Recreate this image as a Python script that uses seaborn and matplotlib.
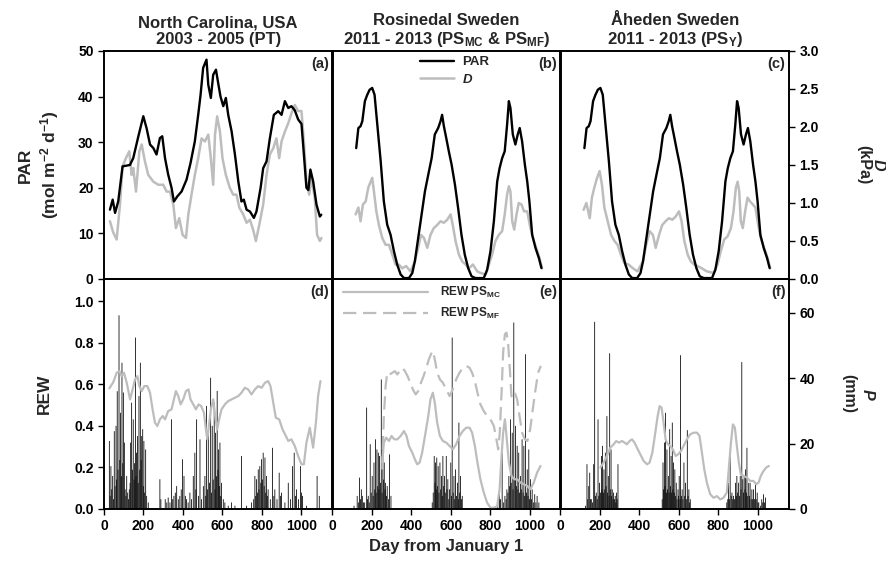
import numpy as np
import matplotlib
matplotlib.use("Agg")
import matplotlib.pyplot as plt
from matplotlib.lines import Line2D
import seaborn as sns

# ---------------- data ----------------
titles = ["North Carolina, USA\n2003 - 2005 (PT)",
          "Rosinedal Sweden\n2011 - 2013 (PS$_{MC}$ & PS$_{MF}$)",
          "\u00c5heden Sweden\n2011 - 2013 (PS$_{Y}$)"]
panel_tags_top = ["(a)", "(b)", "(c)"]
panel_tags_bot = ["(d)", "(e)", "(f)"]
x_ticks = [0, 200, 400, 600, 800, 1000]

# PAR (mol m-2 d-1)
nc_par_day = [30, 44, 56, 72, 94, 131, 148, 174, 199, 216, 233, 250, 266, 283, 295, 309, 325, 342, 354, 371,
              393, 418, 438, 460, 477, 489, 502, 519, 528, 541, 553, 567, 578, 590, 604, 617, 629, 646, 663, 680,
              696, 708, 722, 739, 759, 772, 793, 806, 823, 840, 860, 882, 899, 916, 933, 949, 966, 983, 1000, 1010,
              1025, 1035, 1045, 1059, 1076, 1093, 1100]
nc_par_val = [15.2, 17.4, 14.5, 17.0, 24.7, 25.0, 26.5, 31.3, 35.7, 33.0, 29.5, 28.7, 27.3, 30.9, 31.3, 26.5, 22.9, 20.0, 17.0, 18.1,
              19.2, 21.8, 25.4, 30.2, 36.0, 40.4, 46.3, 48.1, 42.6, 39.7, 44.8, 45.9, 43.0, 40.0, 37.9, 39.7, 36.0, 32.4, 27.3, 21.4,
              17.0, 17.4, 15.2, 14.8, 13.4, 14.8, 20.0, 24.3, 25.8, 30.9, 36.0, 36.8, 36.0, 39.0, 37.5, 37.9, 37.0, 35.0, 34.0, 28.5,
              20.0, 19.5, 24.0, 21.4, 16.3, 13.7, 14.1]

se_par_day = [121, 132, 143, 152, 165, 177, 189, 202, 214, 228, 245, 261, 278, 295, 312, 329, 346, 363, 388, 405,
              418, 435, 452, 469, 486, 503, 519, 536, 548, 556, 565, 577, 590, 604, 621, 637, 654, 671, 688, 705,
              725, 767, 784, 801, 818, 835, 847, 860, 873, 885, 894, 902, 914, 927, 939, 949, 961, 975, 987, 998,
              1012, 1029, 1046, 1059]
se_par_val = [28.7, 33.1, 33.5, 34.6, 39.0, 40.4, 41.5, 41.9, 40.4, 33.8, 25.8, 17.0, 11.9, 9.7, 6.1, 3.1, 1.0, 0.2, 0.2, 1.3,
              3.9, 9.0, 14.1, 19.2, 22.9, 26.5, 31.7, 33.1, 34.6, 36.0, 33.5, 30.9, 28.0, 25.1, 20.7, 15.6, 9.7, 5.3, 2.4, 0.6,
              0.2, 0.2, 2.0, 6.1, 12.6, 21.4, 24.3, 26.5, 28.0, 33.8, 39.0, 37.5, 31.7, 29.5, 31.7, 33.1, 30.2, 25.1, 21.4, 17.0,
              9.7, 6.8, 4.6, 2.4]

# D (kPa)
nc_d_day = [30, 47, 64, 81, 94, 111, 128, 140, 148, 162, 179, 191, 207, 224, 250, 275, 300, 317, 334, 351,
            364, 381, 398, 415, 427, 443, 460, 477, 494, 511, 528, 541, 553, 562, 573, 587, 600, 617, 637, 654,
            671, 685, 705, 722, 739, 755, 769, 786, 806, 823, 840, 857, 873, 887, 899, 916, 933, 949, 966, 983,
            1000, 1012, 1025, 1039, 1051, 1067, 1079, 1093, 1101]
nc_d_val = [0.76, 0.61, 0.52, 0.98, 1.48, 1.59, 1.68, 1.37, 1.46, 1.15, 1.68, 1.77, 1.55, 1.37, 1.28, 1.24, 1.24, 1.15, 1.15, 0.98,
            0.67, 0.80, 0.58, 0.54, 0.85, 1.11, 1.37, 1.59, 1.85, 1.81, 1.90, 1.59, 1.24, 1.90, 2.14, 1.94, 1.59, 1.37, 1.20, 1.11,
            1.11, 0.94, 0.85, 0.74, 0.78, 0.65, 0.50, 0.71, 0.98, 1.37, 1.64, 1.72, 1.85, 1.59, 1.81, 1.94, 2.05, 2.18, 2.29, 2.21,
            2.21, 1.81, 1.28, 1.11, 1.33, 1.07, 0.58, 0.50, 0.54]

ro_d_day = [118, 132, 143, 155, 169, 182, 194, 202, 211, 223, 236, 253, 270, 287, 304, 320, 337, 354, 374, 396,
            418, 435, 449, 464, 481, 497, 514, 531, 548, 565, 582, 599, 610, 624, 641, 658, 675, 691, 712, 734,
            750, 776, 793, 809, 826, 843, 860, 873, 885, 894, 902, 911, 921, 933, 944, 958, 971, 987, 1000, 1016,
            1032, 1049, 1062]
ro_d_val = [0.85, 0.94, 0.76, 0.98, 1.02, 1.20, 1.28, 1.33, 1.15, 0.89, 0.71, 0.54, 0.45, 0.45, 0.32, 0.19, 0.19, 0.14, 0.17, 0.10,
            0.23, 0.41, 0.58, 0.54, 0.41, 0.58, 0.67, 0.71, 0.76, 0.74, 0.78, 0.85, 0.71, 0.50, 0.32, 0.23, 0.19, 0.14, 0.19, 0.10,
            0.08, 0.06, 0.19, 0.32, 0.50, 0.58, 0.63, 0.85, 1.11, 1.22, 1.15, 0.76, 0.65, 0.85, 1.00, 0.98, 0.89, 0.89, 0.71, 0.54,
            0.41, 0.28, 0.14]

ah_d_day = [117, 131, 148, 159, 171, 185, 198, 210, 222, 239, 256, 273, 289, 306, 323, 345, 367, 390, 417, 434,
            451, 468, 482, 499, 515, 532, 549, 566, 583, 600, 613, 627, 644, 660, 677, 694, 716, 741, 775, 795,
            812, 829, 846, 863, 876, 888, 897, 905, 913, 923, 935, 947, 960, 974, 987, 1001, 1014, 1031, 1048, 1062]
ah_d_val = [0.91, 1.00, 0.80, 1.07, 1.20, 1.33, 1.42, 1.24, 0.94, 0.76, 0.58, 0.50, 0.45, 0.32, 0.21, 0.19, 0.14, 0.10, 0.23, 0.45,
            0.63, 0.58, 0.41, 0.58, 0.71, 0.76, 0.80, 0.78, 0.82, 0.89, 0.76, 0.50, 0.32, 0.23, 0.19, 0.17, 0.14, 0.10, 0.08, 0.19,
            0.37, 0.52, 0.56, 0.67, 0.89, 1.20, 1.28, 1.15, 0.76, 0.67, 0.89, 1.07, 1.02, 0.98, 0.94, 0.71, 0.54, 0.41, 0.28, 0.14]

# REW (-)
nc_rew_day = [27, 47, 64, 78, 89, 101, 115, 132, 145, 157, 169, 179, 191, 204, 219, 233, 246, 258, 270, 283,
              297, 309, 325, 342, 354, 364, 376, 388, 401, 415, 428, 438, 452, 465, 479, 492, 506, 516, 523, 533,
              541, 553, 563, 573, 583, 595, 612, 629, 646, 663, 680, 696, 713, 730, 747, 764, 781, 798, 815, 831,
              843, 857, 870, 887, 904, 921, 933, 949, 966, 983, 1000, 1012, 1025, 1042, 1059, 1073, 1084, 1096]
nc_rew_val = [0.58, 0.61, 0.655, 0.663, 0.639, 0.655, 0.607, 0.527, 0.575, 0.623, 0.639, 0.591, 0.567, 0.591, 0.591, 0.559, 0.479, 0.415, 0.399, 0.431,
              0.447, 0.431, 0.471, 0.479, 0.527, 0.567, 0.543, 0.503, 0.527, 0.567, 0.575, 0.527, 0.503, 0.479, 0.503, 0.495, 0.463, 0.383, 0.335, 0.415,
              0.479, 0.527, 0.447, 0.383, 0.431, 0.479, 0.503, 0.519, 0.527, 0.535, 0.543, 0.559, 0.583, 0.575, 0.551, 0.575, 0.591, 0.583, 0.607, 0.615,
              0.591, 0.511, 0.439, 0.431, 0.383, 0.351, 0.327, 0.335, 0.303, 0.255, 0.215, 0.215, 0.319, 0.391, 0.295, 0.415, 0.543, 0.615]

mc_rew_day = [253, 261, 273, 287, 300, 314, 329, 346, 363, 376, 388, 405, 418, 430, 442, 455, 472, 486, 497, 509,
              519, 531, 545, 560, 577, 594, 610, 627, 644, 661, 678, 695, 708, 722, 735, 750, 767, 784, 801, 818,
              835, 847, 857, 865, 874, 882, 894, 907, 921, 936, 953, 970, 987, 1003, 1020, 1037, 1054]
mc_rew_val = [0.223, 0.319, 0.343, 0.327, 0.351, 0.335, 0.335, 0.351, 0.375, 0.351, 0.303, 0.271, 0.239, 0.215, 0.223, 0.271, 0.367, 0.447, 0.527, 0.559,
              0.511, 0.415, 0.351, 0.327, 0.319, 0.303, 0.287, 0.311, 0.351, 0.375, 0.391, 0.391, 0.367, 0.303, 0.223, 0.143, 0.079, 0.030, 0.006, 0.006,
              0.014, 0.095, 0.255, 0.367, 0.431, 0.351, 0.223, 0.159, 0.143, 0.143, 0.127, 0.119, 0.111, 0.095, 0.127, 0.175, 0.207]

mf_rew_day = [253, 261, 270, 278, 290, 304, 317, 329, 341, 354, 368, 381, 395, 408, 422, 435, 449, 462, 476, 489,
              503, 509, 519, 531, 545, 560, 577, 594, 610, 627, 644, 661, 678, 695, 708, 722, 735, 750, 767, 784,
              801, 818, 831, 840, 848, 857, 865, 874, 882, 890, 899, 907, 916, 924, 936, 948, 961, 975, 988, 1002,
              1015, 1029, 1042, 1056]
mf_rew_val = [0.19, 0.447, 0.591, 0.655, 0.647, 0.655, 0.663, 0.647, 0.663, 0.679, 0.663, 0.639, 0.607, 0.575, 0.551, 0.567, 0.607, 0.639, 0.679, 0.72,
              0.752, 0.76, 0.72, 0.655, 0.623, 0.607, 0.575, 0.543, 0.575, 0.623, 0.655, 0.679, 0.688, 0.679, 0.655, 0.615, 0.559, 0.503, 0.471, 0.447,
              0.431, 0.399, 0.335, 0.287, 0.367, 0.559, 0.752, 0.84, 0.848, 0.80, 0.671, 0.543, 0.535, 0.559, 0.527, 0.447, 0.367, 0.335, 0.327, 0.383,
              0.479, 0.575, 0.655, 0.688]

ah_rew_day = [202, 218, 235, 252, 269, 282, 296, 311, 325, 336, 350, 362, 375, 387, 404, 421, 438, 451, 465, 480,
              492, 502, 512, 522, 532, 544, 556, 569, 583, 596, 610, 623, 640, 657, 674, 691, 704, 716, 728, 741,
              758, 775, 792, 809, 825, 842, 852, 863, 873, 883, 893, 903, 913, 927, 944, 960, 977, 991, 1003, 1014,
              1028, 1041, 1055]
ah_rew_val = [0.199, 0.223, 0.255, 0.295, 0.311, 0.327, 0.319, 0.327, 0.319, 0.311, 0.327, 0.335, 0.319, 0.295, 0.263, 0.231, 0.215, 0.223, 0.271, 0.367,
              0.447, 0.495, 0.487, 0.415, 0.335, 0.311, 0.303, 0.287, 0.255, 0.263, 0.279, 0.303, 0.335, 0.359, 0.367, 0.367, 0.351, 0.271, 0.191, 0.127,
              0.071, 0.054, 0.062, 0.046, 0.054, 0.079, 0.191, 0.319, 0.407, 0.391, 0.303, 0.223, 0.167, 0.159, 0.151, 0.135, 0.135, 0.119, 0.127, 0.159,
              0.183, 0.199, 0.207]

# P (mm)
nc_p_day = [27, 31, 35, 39, 44, 48, 52, 56, 61, 64, 67, 71, 76, 80, 84, 88, 91, 95, 98, 103,
            107, 111, 115, 120, 124, 128, 132, 135, 140, 144, 148, 152, 155, 159, 162, 165, 170, 173, 177, 181,
            184, 188, 191, 196, 199, 202, 206, 211, 216, 224, 283, 288, 310, 318, 325, 334, 342, 348, 354, 361,
            368, 376, 384, 391, 398, 405, 412, 418, 426, 435, 443, 452, 460, 465, 469, 478, 486, 494, 503, 511,
            515, 519, 524, 528, 534, 540, 544, 548, 553, 558, 562, 565, 569, 573, 577, 580, 584, 587, 591, 595,
            604, 612, 629, 646, 663, 696, 722, 747, 758, 764, 768, 772, 777, 781, 785, 789, 794, 798, 802, 806,
            811, 815, 819, 823, 827, 831, 842, 853, 860, 865, 876, 887, 893, 899, 916, 933, 944, 954, 963, 970,
            975, 985, 995, 1000, 1005, 1025, 1079, 1090]
nc_p_val = [20.8, 4, 13.1, 6, 10.1, 3, 23.8, 7, 25.4, 9, 36, 12, 59.2, 15, 29.4, 10, 44.7, 14, 35.6, 20.3,
            6, 4, 10.1, 5, 3, 6, 8, 20.3, 32.5, 12, 27.4, 9, 14, 52.4, 10, 17.2, 22.3, 8, 34.5, 12,
            44.7, 15, 22.3, 24.4, 7, 20.8, 5, 18.2, 4, 2, 9.1, 3, 3, 2, 3.5, 2, 27.4, 3, 4, 5,
            7, 3, 4, 6, 15.2, 10.1, 4, 3, 2, 5, 3, 10.1, 17.2, 6, 27.4, 4, 21.3, 3, 7, 10.1,
            4, 31.5, 6, 23.3, 8, 40.1, 5, 25.4, 9, 32.5, 6, 23.3, 10, 36.1, 12, 18.2, 7, 20.3, 4, 8,
            3, 2, 1, 2, 1, 16.2, 1, 2, 3, 10.1, 4, 9.1, 5, 12.1, 6, 13.1, 8, 15.2, 9, 17.2,
            7, 15.7, 5, 10.1, 4, 6, 3, 18.7, 4, 6, 3, 11.1, 4, 5, 2, 8, 3, 13.1, 17.2, 4,
            6, 3, 13.1, 5, 4, 1, 10.1, 4]

ro_p_day = [110, 126, 132, 138, 143, 147, 152, 158, 164, 174, 178, 182, 187, 192, 197, 202, 207, 211, 215, 219,
            222, 226, 230, 233, 236, 239, 244, 248, 252, 256, 260, 263, 267, 270, 275, 278, 284, 290, 297,
            506, 511, 516, 520, 523, 526, 529, 532, 536, 540, 545, 549, 553, 557, 560, 564, 568, 572, 577, 581,
            585, 590, 594, 600, 604, 607, 612, 616, 620, 624, 629, 634, 638, 641, 645, 649, 654, 658,
            838, 847, 852, 860, 866, 874, 880, 884, 889, 894, 898, 902, 906, 911, 915, 919, 924, 928, 932, 936,
            940, 944, 948, 953, 957, 961, 966, 970, 974, 978, 983, 987, 991, 995, 999, 1003, 1008, 1012, 1018, 1025,
            1031, 1037, 1046]
ro_p_val = [1, 4, 2, 9.6, 3, 6, 4, 2, 2, 31, 3, 4, 2, 19.8, 5, 10.1, 4, 14.2, 6, 21.3,
            5, 18.2, 7, 17.2, 6, 16.2, 8, 39.6, 5, 22.3, 9, 14.2, 6, 8, 4, 7, 3, 16.7, 4,
            2, 5, 16.2, 8, 14.2, 6, 15.7, 7, 13.1, 5, 14.2, 6, 10.1, 4, 16.2, 7, 10.1, 5, 16.2, 6,
            9.1, 3, 6, 14.2, 4, 52.4, 5, 10.1, 3, 12.1, 4, 8, 3, 26.4, 5, 10.1, 3, 4,
            2, 8, 3, 17.2, 2, 4, 3, 6, 5, 10.1, 7, 27.4, 8, 23.3, 6, 57, 9, 25.4, 7, 19.3,
            6, 17.2, 5, 10.1, 6, 21.3, 5, 19.3, 4, 47.3, 5, 12.1, 4, 18.2, 3, 9.1, 3, 6, 2, 4.5,
            2, 4, 2]

ah_p_day = [126, 134, 138, 143, 148, 152, 156, 162, 168, 173, 177, 181, 186, 190, 194, 198, 203, 207, 210, 213,
            217, 220, 224, 227, 231, 235, 238, 242, 246, 249, 252, 256, 259, 262, 266, 269, 273, 277, 280, 283,
            287, 291,
            515, 519, 522, 526, 529, 532, 536, 539, 542, 546, 550, 553, 557, 560, 563, 566, 569, 572, 576, 579,
            583, 586, 590, 595, 598, 601, 605, 608, 612, 616, 620, 625, 629, 633, 637, 642, 646, 650, 654, 657,
            842, 847, 851, 855, 859, 864, 868, 872, 876, 881, 886, 890, 893, 897, 902, 906, 910, 914, 918, 923,
            927, 930, 934, 937, 941, 944, 948, 953, 957, 960, 965, 969, 973, 977, 982, 987, 991, 996, 1000, 1004,
            1012, 1019, 1024, 1028, 1033, 1038]
ah_p_val = [1, 13.7, 3, 7, 11.1, 3, 3, 2, 13.7, 57.2, 4, 5, 3, 27.4, 4, 8, 5, 16.2, 6, 19.3,
            5, 12.1, 6, 17.2, 7, 28.4, 5, 10.1, 4, 47.6, 6, 18.2, 4, 6, 3, 5, 3, 4, 2, 5,
            3, 13.7,
            3, 14.2, 6, 20.3, 7, 29.4, 5, 18.2, 6, 10.1, 5, 24.4, 7, 16.2, 5, 26.4, 6, 14.2, 5, 12.1,
            4, 8, 3, 6, 4, 10.1, 3, 47, 4, 6, 3, 14.2, 4, 8, 3, 24.1, 4, 6, 2, 3,
            2, 3, 8, 3, 16.2, 4, 5, 3, 4, 3, 8, 4, 10.1, 5, 8, 4, 10.1, 6, 44.9, 9.1,
            5, 10.1, 6, 12.1, 5, 18.7, 4, 8, 4, 8, 3, 6, 3, 6, 3, 8, 3, 5, 2, 2,
            1, 3, 2, 4.5, 2, 3.5]

# ---------------- style ----------------
sns.set_style("ticks")
plt.rcParams.update({
    "font.family": ["Liberation Sans", "DejaVu Sans"],
    "font.weight": "bold",
    "axes.labelweight": "bold",
    "axes.titleweight": "bold",
    "mathtext.fontset": "custom",
    "mathtext.rm": "Liberation Sans:bold",
    "mathtext.bf": "Liberation Sans:bold",
    "mathtext.it": "Liberation Sans:italic:bold",
    "mathtext.default": "bf",
    "axes.linewidth": 1.2,
    "axes.edgecolor": "black",
    "xtick.color": "black", "ytick.color": "black",
    "xtick.major.width": 1.0, "ytick.major.width": 1.0,
    "xtick.major.size": 4, "ytick.major.size": 4,
    "xtick.direction": "out", "ytick.direction": "out",
    "xtick.labelsize": 10, "ytick.labelsize": 10,
})

W, H = 887, 563
fig = plt.figure(figsize=(W / 100, H / 100), dpi=100)


def rect(l, t, w, h):
    return [l / W, 1 - (t + h) / H, w / W, h / H]


lefts = [104, 332.3, 560.5]
pw = 228.5
XMAX = 1157
LGRAY = "#bdbdbd"

par_sets = [(nc_par_day, nc_par_val), (se_par_day, se_par_val), (se_par_day, se_par_val)]
d_sets = [(nc_d_day, nc_d_val), (ro_d_day, ro_d_val), (ah_d_day, ah_d_val)]
p_sets = [(nc_p_day, nc_p_val), (ro_p_day, ro_p_val), (ah_p_day, ah_p_val)]

for i in range(3):
    # ---- top row ----
    ax = fig.add_axes(rect(lefts[i], 51, pw, 228))
    tw = ax.twinx()
    sns.lineplot(x=np.array(d_sets[i][0]), y=np.array(d_sets[i][1]), ax=tw, color=LGRAY, lw=1.8)
    sns.lineplot(x=np.array(par_sets[i][0]), y=np.array(par_sets[i][1]), ax=ax, color="black", lw=1.7)
    ax.set_zorder(tw.get_zorder() + 1)
    ax.patch.set_visible(False)
    ax.set_xlim(0, XMAX)
    ax.set_ylim(0, 50)
    tw.set_ylim(0, 3)
    ax.tick_params(axis="x", bottom=False, labelbottom=False)
    ax.set_xlabel("")
    tw.set_xlabel("")
    if i == 0:
        ax.set_yticks([0, 10, 20, 30, 40, 50])
        ax.set_ylabel("PAR\n(mol m$^{-2}$ d$^{-1}$)", fontsize=12.5, labelpad=12, linespacing=1.3)
    else:
        ax.tick_params(axis="y", left=False, labelleft=False)
        ax.set_ylabel("")
    if i == 2:
        tw.set_yticks([0, 0.5, 1.0, 1.5, 2.0, 2.5, 3.0])
        tw.set_yticklabels(["0.0", "0.5", "1.0", "1.5", "2.0", "2.5", "3.0"])
        tw.set_ylabel("$\\mathit{D}$\n(kPa)", fontsize=11.5, rotation=270, labelpad=49, linespacing=0.95)
    else:
        tw.tick_params(axis="y", right=False, labelright=False)
        tw.set_ylabel("")
    for sp in list(ax.spines.values()) + list(tw.spines.values()):
        sp.set_linewidth(1.2)
    ax.set_title(titles[i], fontsize=12, pad=5, linespacing=1.15)
    ax.text(0.985, 0.975, panel_tags_top[i], transform=ax.transAxes, ha="right", va="top", fontsize=10.5)
    if i == 1:
        ax.legend(handles=[Line2D([], [], color="black", lw=1.7), Line2D([], [], color=LGRAY, lw=1.8)],
                  labels=["PAR", "$\\mathit{D}$"], loc="upper left", bbox_to_anchor=(0.33, 1.03),
                  frameon=False, fontsize=9.5, handlelength=2.6, handletextpad=0.6, labelspacing=0.35)

    # ---- bottom row ----
    bx = fig.add_axes(rect(lefts[i], 279, pw, 230))
    bt = bx.twinx()
    bt.bar(p_sets[i][0], p_sets[i][1], width=4.0, color="black", linewidth=0, snap=False)
    if i == 1:
        sns.lineplot(x=np.array(mc_rew_day), y=np.array(mc_rew_val), ax=bx, color=LGRAY, lw=1.6)
        sns.lineplot(x=np.array(mf_rew_day), y=np.array(mf_rew_val), ax=bx, color=LGRAY, lw=1.6,
                     linestyle=(0, (6, 3)))
        bx.legend(handles=[Line2D([], [], color=LGRAY, lw=1.6), Line2D([], [], color=LGRAY, lw=1.6, linestyle=(0, (6, 3)))],
                  labels=["REW PS$_{MC}$", "REW PS$_{MF}$"], loc="upper left", bbox_to_anchor=(0.0, 1.02),
                  frameon=False, fontsize=8.5, handlelength=7.2, handletextpad=1.0, labelspacing=0.5)
    elif i == 0:
        sns.lineplot(x=np.array(nc_rew_day), y=np.array(nc_rew_val), ax=bx, color=LGRAY, lw=1.6)
    else:
        sns.lineplot(x=np.array(ah_rew_day), y=np.array(ah_rew_val), ax=bx, color=LGRAY, lw=1.6)
    bx.set_zorder(bt.get_zorder() + 1)
    bx.patch.set_visible(False)
    bx.set_xlim(0, XMAX)
    bx.set_ylim(0, 1.106)
    bt.set_ylim(0, 70.3)
    bx.set_xticks(x_ticks)
    bx.set_xticklabels([str(v) for v in x_ticks])
    bx.set_xlabel("")
    bt.set_xlabel("")
    if i == 0:
        bx.set_yticks([0, 0.2, 0.4, 0.6, 0.8, 1.0])
        bx.set_yticklabels(["0.0", "0.2", "0.4", "0.6", "0.8", "1.0"])
        bx.set_ylabel("REW", fontsize=12.5, labelpad=16)
    else:
        bx.tick_params(axis="y", left=False, labelleft=False)
        bx.set_ylabel("")
    if i == 2:
        bt.set_yticks([0, 20, 40, 60])
        bt.set_ylabel("$\\mathit{P}$\n(mm)", fontsize=11.5, rotation=270, labelpad=44, linespacing=1.3)
    else:
        bt.tick_params(axis="y", right=False, labelright=False)
        bt.set_ylabel("")
    if i == 1:
        bx.set_xlabel("Day from January 1", fontsize=12, labelpad=4)
    for sp in list(bx.spines.values()) + list(bt.spines.values()):
        sp.set_linewidth(1.2)
    bx.text(0.985, 0.975, panel_tags_bot[i], transform=bx.transAxes, ha="right", va="top", fontsize=10.5)

fig.savefig("out.png", dpi=100)
